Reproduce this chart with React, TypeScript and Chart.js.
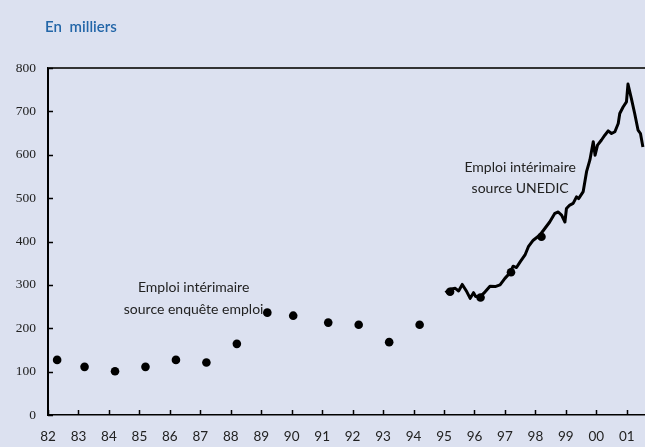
import { useEffect, useRef } from 'react';
import { Chart, registerables } from 'chart.js';

Chart.register(...registerables);

const titleText = 'En milliers';

const yearTicks = [82, 83, 84, 85, 86, 87, 88, 89, 90, 91, 92, 93, 94, 95, 96, 97, 98, 99, 100, 101];
const yearLabels = ['82', '83', '84', '85', '86', '87', '88', '89', '90', '91', '92', '93', '94', '95', '96', '97', '98', '99', '00', '01'];
const valueTicks = [0, 100, 200, 300, 400, 500, 600, 700, 800];

// Emploi intérimaire – source enquête emploi (annual points)
const surveyYears = [82.3, 83.2, 84.2, 85.2, 86.2, 87.2, 88.2, 89.2, 90.05, 91.2, 92.2, 93.2, 94.2, 95.2, 96.2, 97.2, 98.2];
const surveyValues = [127, 111, 101, 111, 127, 121, 164, 236, 229, 213, 208, 168, 208, 284, 271, 329, 411];

// Emploi intérimaire – source UNEDIC (monthly line)
const unedicYears = [
  95.05, 95.12, 95.2, 95.37, 95.48, 95.6, 95.75, 95.86, 95.97, 96.04, 96.19, 96.35, 96.51, 96.68, 96.84,
  97.0, 97.17, 97.27, 97.38, 97.5, 97.66, 97.77, 97.93, 98.15, 98.31, 98.47, 98.64, 98.75, 98.86, 98.97,
  99.02, 99.13, 99.24, 99.35, 99.42, 99.57, 99.68, 99.79, 99.9, 99.96, 100.04, 100.17, 100.28, 100.39,
  100.5, 100.61, 100.72, 100.77, 100.88, 100.99, 101.04, 101.15, 101.26, 101.37, 101.45, 101.53,
];
const unedicValues = [
  282, 286, 290, 292, 286, 301, 284, 269, 282, 273, 273, 284, 297, 296, 300,
  315, 328, 343, 340, 353, 369, 388, 403, 415, 430, 445, 465, 468, 461, 445,
  476, 484, 488, 503, 499, 515, 561, 588, 630, 599, 622, 634, 645, 655,
  649, 653, 672, 695, 710, 722, 763, 730, 695, 657, 649, 618,
];

const annotationLines = [
  ['Emploi intérimaire', 'source enquête emploi'],
  ['Emploi intérimaire', 'source UNEDIC'],
];
const annotationX = [86.78, 97.5];
const annotationY = [[295, 244], [571, 523]];

const decor = {
  id: 'decor',
  afterDraw(chart: any) {
    const { ctx, chartArea: a, scales } = chart;
    const x = scales.x;
    const y = scales.y;
    ctx.save();
    // top frame line
    ctx.strokeStyle = '#333';
    ctx.lineWidth = 2;
    ctx.beginPath();
    ctx.moveTo(a.left, a.top);
    ctx.lineTo(a.right, a.top);
    ctx.stroke();
    // inward tick marks
    ctx.strokeStyle = '#000';
    ctx.lineWidth = 1.5;
    ctx.beginPath();
    x.ticks.forEach((t: any) => {
      const px = Math.round(x.getPixelForValue(t.value)) + 0.5;
      ctx.moveTo(px, a.bottom);
      ctx.lineTo(px, a.bottom - 5);
    });
    y.ticks.forEach((t: any) => {
      const py = Math.round(y.getPixelForValue(t.value)) + 0.5;
      ctx.moveTo(a.left, py);
      ctx.lineTo(a.left + 5, py);
    });
    ctx.stroke();
    // title
    ctx.fillStyle = '#2366a8';
    ctx.font = '600 15px Lato';
    ctx.textBaseline = 'middle';
    ctx.textAlign = 'left';
    (ctx as any).wordSpacing = '4px';
    ctx.fillText(titleText, 45, 27);
    (ctx as any).wordSpacing = '0px';
    // annotations
    ctx.fillStyle = '#222';
    ctx.font = '14px Lato';
    ctx.textAlign = 'center';
    annotationLines.forEach((lines, i) => {
      const px = x.getPixelForValue(annotationX[i]);
      lines.forEach((txt, j) => {
        ctx.fillText(txt, px, y.getPixelForValue(annotationY[i][j]));
      });
    });
    ctx.restore();
  },
};

export default function App() {
  const ref = useRef<HTMLCanvasElement>(null);
  useEffect(() => {
    const canvas = ref.current!;
    const chart = new Chart(canvas, {
      type: 'scatter',
      data: {
        datasets: [
          {
            type: 'scatter',
            data: surveyYears.map((v, i) => ({ x: v, y: surveyValues[i] })),
            backgroundColor: '#000',
            borderColor: '#000',
            borderWidth: 0,
            pointRadius: 4.3,
          },
          {
            type: 'line',
            data: unedicYears.map((v, i) => ({ x: v, y: unedicValues[i] })),
            borderColor: '#000',
            borderWidth: 3,
            pointRadius: 0,
            tension: 0,
            fill: false,
            borderJoinStyle: 'round',
          } as any,
        ],
      },
      options: {
        responsive: false,
        maintainAspectRatio: false,
        animation: false,
        layout: { padding: { left: 0, right: 2, top: 68, bottom: 0 } },
        plugins: { legend: { display: false }, tooltip: { enabled: false } },
        scales: {
          x: {
            type: 'linear',
            min: 82,
            max: 101.95,
            afterBuildTicks: (s: any) => {
              s.ticks = yearTicks.map((v) => ({ value: v }));
            },
            afterFit: (s: any) => {
              s.height = 32;
            },
            ticks: {
              autoSkip: false,
              maxRotation: 0,
              padding: 14,
              color: '#222',
              font: { family: 'Lato', size: 13.5 },
              callback: (v: any) => {
                const i = yearTicks.indexOf(Number(v));
                return i >= 0 ? yearLabels[i] : '';
              },
            },
            grid: { drawOnChartArea: false, drawTicks: false },
            border: { color: '#000', width: 1.5 },
          },
          y: {
            min: 0,
            max: 800,
            afterBuildTicks: (s: any) => {
              s.ticks = valueTicks.map((v) => ({ value: v }));
            },
            afterFit: (s: any) => {
              s.width = 48;
            },
            ticks: {
              padding: 12,
              color: '#222',
              font: { family: 'Liberation Serif', size: 13.5 },
            },
            grid: { drawOnChartArea: false, drawTicks: false },
            border: { color: '#000', width: 2 },
          },
        },
      },
      plugins: [decor],
    });
    return () => chart.destroy();
  }, []);

  return (
    <div
      style={{
        position: 'fixed',
        left: 0,
        top: 0,
        width: 645,
        height: 447,
        overflow: 'hidden',
        background: 'rgb(220,225,240)',
      }}
    >
      <canvas ref={ref} width={660} height={447} style={{ display: 'block' }} />
    </div>
  );
}
